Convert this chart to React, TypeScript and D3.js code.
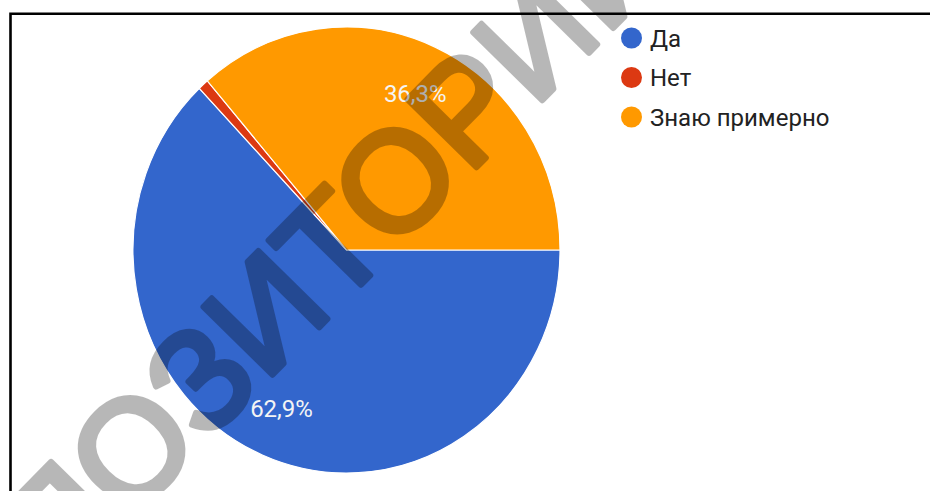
import React from "react";
import * as d3 from "d3";

const categories = ["Да", "Нет", "Знаю примерно"];
const values = [62.9, 0.8, 36.3];
const colors = ["#3366cc", "#dc3912", "#ff9900"];

const W = 930;
const H = 491;

export default function App() {
  const cx = 346.5;
  const cy = 250;
  const r = 223;
  const sx = 213.5 / 223;

  const pie = d3
    .pie<number>()
    .sort(null)
    .value((d) => d)
    .startAngle(Math.PI / 2)
    .endAngle(Math.PI / 2 + Math.PI * 2);
  const arcs = pie(values);
  const arc = d3.arc<d3.PieArcDatum<number>>().innerRadius(0).outerRadius(r);
  const labelArc = d3
    .arc<d3.PieArcDatum<number>>()
    .innerRadius(r * 0.772)
    .outerRadius(r * 0.772);

  const fmt = (v: number) => v.toFixed(1).replace(".", ",") + "%";

  const legendY = d3.scalePoint<string>().domain(categories).range([38, 117]);

  const wm = {
    fontFamily: "Liberation Sans, Arial, sans-serif",
    fontSize: 141,
    fill: "#000",
    stroke: "#000",
    strokeWidth: 6,
    strokeLinejoin: "round" as const,
  };

  return (
    <svg
      width={W}
      height={H}
      style={{ position: "absolute", left: 0, top: 0, display: "block", background: "#fff" }}
    >
      <rect x={0} y={0} width={W} height={H} fill="#fff" />
      <path d={`M10.5,${H} V13.8 H${W}`} fill="none" stroke="#000" strokeWidth={2.6} />
      <g transform={`translate(${cx},${cy}) scale(${sx},1)`}>
        {arcs.map((a, i) => (
          <path key={i} d={arc(a) || ""} fill={colors[i]} stroke="#ffffff" strokeWidth={1.2} />
        ))}
      </g>
      {arcs.map((a, i) => {
        if (a.data < 5) return null;
        const [lx, ly] = labelArc.centroid(a);
        return (
          <text
            key={"l" + i}
            x={cx + lx * sx}
            y={cy + ly}
            dy="0.355em"
            textAnchor="middle"
            fontFamily="Roboto, Arial, sans-serif"
            fontSize={24}
            fill="#f4f4f4"
          >
            {fmt(a.data)}
          </text>
        );
      })}
      {categories.map((c, i) => (
        <g key={"g" + i} transform={`translate(0,${legendY(c)})`}>
          <circle cx={631.5} cy={0} r={10.5} fill={colors[i]} />
          <text
            x={650}
            y={0}
            dy="0.355em"
            fontFamily="Roboto, Arial, sans-serif"
            fontSize={24}
            fill="#222"
          >
            {c}
          </text>
        </g>
      ))}
      <g transform="translate(128,522) rotate(-45.5)" opacity={0.28}>
        <text x={0} y={0} textAnchor="end" {...wm}>
          РЕП
        </text>
        <text x={0} y={0} {...wm}>
          ОЗИТОРИЙ
        </text>
      </g>
    </svg>
  );
}
